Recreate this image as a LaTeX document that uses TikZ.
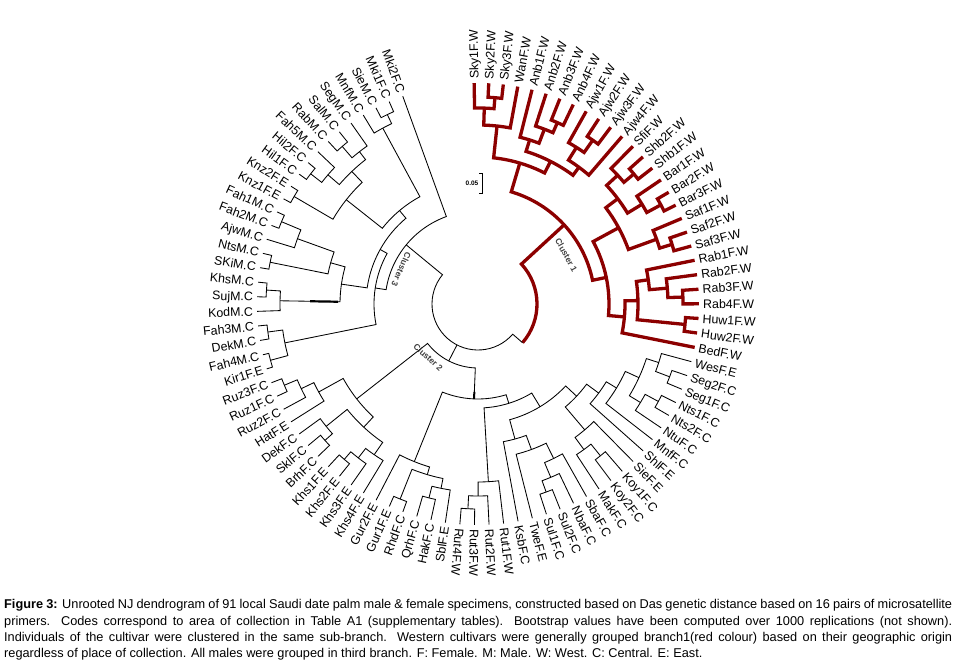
\documentclass[tikz,border=0pt]{standalone}
\usepackage{fontspec}
\setmainfont{Liberation Sans}
\definecolor{dred}{RGB}{140,0,0}
\newcommand\angof[1]{91-3.79*(#1)}
\newcommand\leafr{221}
% style, r, idx1, r1, idx2, r2
\newcommand\tbr[6]{\draw[#1] ({\angof{#3}}:#4pt) -- ({\angof{#3}}:#2pt) arc[start angle={\angof{#3}},end angle={\angof{#5}},radius=#2pt] -- ({\angof{#5}}:#6pt);}
\begin{document}
\begin{tikzpicture}[
  redbr/.style={draw=dred, line width=3.3pt},
  blkbr/.style={draw=black, line width=0.85pt},
  lab/.style={font=\fontsize{12.4}{13}\selectfont, inner sep=0pt, text height=8.9pt, text depth=0pt},
  cl/.style={font=\bfseries\fontsize{8.5}{9}\selectfont, text=black!75, inner sep=0pt}]
\useasboundingbox (-478pt,-357pt) rectangle (478pt,304pt);
% ---------------- cluster 1 (red)
\tbr{redbr}{207}{1}{\leafr}{2}{\leafr}
\tbr{redbr}{196}{0}{\leafr}{1.5}{207}
\tbr{redbr}{179}{0.75}{196}{3}{\leafr}
\tbr{redbr}{198}{6}{\leafr}{7}{\leafr}
\tbr{redbr}{187}{5}{\leafr}{6.5}{198}
\tbr{redbr}{172}{4}{\leafr}{5.75}{187}
\tbr{redbr}{200}{9}{\leafr}{10}{\leafr}
\tbr{redbr}{185}{8}{\leafr}{9.5}{200}
\tbr{redbr}{170}{8.75}{185}{11}{\leafr}
\tbr{redbr}{160}{4.875}{172}{9.875}{170}
\tbr{redbr}{147}{1.875}{179}{7.375}{160}
\tbr{redbr}{203}{13}{\leafr}{14}{\leafr}
\tbr{redbr}{190}{12}{\leafr}{13.5}{203}
\tbr{redbr}{208}{16}{\leafr}{17}{\leafr}
\tbr{redbr}{192}{15}{\leafr}{16.5}{208}
\tbr{redbr}{175}{12.75}{190}{15.75}{192}
\tbr{redbr}{203}{19}{\leafr}{20}{\leafr}
\tbr{redbr}{190}{18}{\leafr}{19.5}{203}
\tbr{redbr}{160}{14.25}{175}{18.75}{190}
\tbr{redbr}{205}{23}{\leafr}{24}{\leafr}
\tbr{redbr}{190}{22}{\leafr}{23.5}{205}
\tbr{redbr}{172}{21}{\leafr}{22.75}{190}
\tbr{redbr}{208}{25}{\leafr}{26}{\leafr}
\tbr{redbr}{160}{21.875}{172}{25.5}{208}
\tbr{redbr}{147}{23.6875}{160}{27}{\leafr}
\tbr{redbr}{131}{16.5}{160}{25.34375}{147}
\tbr{redbr}{117}{4.625}{147}{20.921875}{131}
\draw[redbr] ({\angof{12.7734}}:117pt) -- ({\angof{12.7734}}:59pt) arc[start angle={\angof{12.7734}},end angle=-41,radius=59pt];
% ---------------- cluster 2
\tbr{blkbr}{205}{29}{\leafr}{30}{\leafr}
\tbr{blkbr}{190}{28}{\leafr}{29.5}{205}
\tbr{blkbr}{205}{31}{\leafr}{32}{\leafr}
\tbr{blkbr}{190}{31.5}{205}{33}{\leafr}
\tbr{blkbr}{177}{28.75}{190}{32.25}{190}
\tbr{blkbr}{162}{30.5}{177}{34}{\leafr}
\tbr{blkbr}{150}{32.25}{162}{35}{\leafr}
\tbr{blkbr}{195}{37}{\leafr}{38}{\leafr}
\tbr{blkbr}{180}{37.5}{195}{39}{\leafr}
\tbr{blkbr}{165}{36}{\leafr}{38.25}{180}
\tbr{blkbr}{135}{33.625}{150}{37.125}{165}
\tbr{blkbr}{200}{42}{\leafr}{43}{\leafr}
\tbr{blkbr}{188}{41}{\leafr}{42.5}{200}
\tbr{blkbr}{172}{40}{\leafr}{41.75}{188}
\tbr{blkbr}{155}{40.875}{172}{44}{\leafr}
\tbr{blkbr}{140}{42.4375}{155}{45}{\leafr}
\tbr{blkbr}{120}{35.375}{135}{43.71875}{140}
\tbr{blkbr}{205}{48}{\leafr}{49}{\leafr}
\tbr{blkbr}{192}{47}{\leafr}{48.5}{205}
\tbr{blkbr}{178}{46}{\leafr}{47.75}{192}
\tbr{blkbr}{104}{39.546875}{120}{46.875}{178}
\tbr{blkbr}{200}{51}{\leafr}{52}{\leafr}
\tbr{blkbr}{188}{50}{\leafr}{51.5}{200}
\tbr{blkbr}{210}{53}{\leafr}{54}{\leafr}
\tbr{blkbr}{178}{50.75}{188}{53.5}{210}
\tbr{blkbr}{170}{52.125}{178}{55}{\leafr}
\tbr{blkbr}{95}{43.2109}{104}{53.5625}{170}
\tbr{blkbr}{205}{58}{\leafr}{59}{\leafr}
\tbr{blkbr}{195}{57}{\leafr}{58.5}{205}
\tbr{blkbr}{183}{56}{\leafr}{57.75}{195}
\tbr{blkbr}{205}{60}{\leafr}{61}{\leafr}
\tbr{blkbr}{195}{60.5}{205}{62}{\leafr}
\tbr{blkbr}{168}{56.875}{183}{61.25}{195}
\tbr{blkbr}{210}{65}{\leafr}{66}{\leafr}
\tbr{blkbr}{196}{64}{\leafr}{65.5}{210}
\tbr{blkbr}{182}{63}{\leafr}{64.75}{196}
\tbr{blkbr}{154}{59.0625}{168}{63.875}{182}
\tbr{blkbr}{64}{48.3867}{95}{61.46875}{154}
\draw[line width=2pt] ({\angof{48.3867}}:88pt) -- ({\angof{48.3867}}:95pt);
% ---------------- cluster 3
\tbr{blkbr}{212}{69}{\leafr}{70}{\leafr}
\tbr{blkbr}{215}{67}{\leafr}{68}{\leafr}
\tbr{blkbr}{197}{67.5}{215}{69.5}{212}
\tbr{blkbr}{212}{72}{\leafr}{73}{\leafr}
\tbr{blkbr}{198}{71}{\leafr}{72.5}{212}
\tbr{blkbr}{212}{74}{\leafr}{75}{\leafr}
\tbr{blkbr}{213}{77}{\leafr}{78}{\leafr}
\tbr{blkbr}{192}{76}{\leafr}{77.5}{213}
\tbr{blkbr}{153}{74.5}{212}{76.75}{192}
\tbr{blkbr}{138}{71.75}{198}{75.625}{153}
\draw[line width=2.2pt] ({\angof{71.75}}:140pt) -- ({\angof{71.75}}:168pt);
\tbr{blkbr}{213}{79}{\leafr}{80}{\leafr}
\tbr{blkbr}{212}{81}{\leafr}{82}{\leafr}
\tbr{blkbr}{198}{81.5}{212}{83}{\leafr}
\tbr{blkbr}{208}{84}{\leafr}{85}{\leafr}
\tbr{blkbr}{193}{84.5}{208}{86}{\leafr}
\tbr{blkbr}{183}{82.25}{198}{85.25}{193}
\tbr{blkbr}{168}{79.5}{213}{83.75}{183}
\tbr{blkbr}{210}{88}{\leafr}{89}{\leafr}
\tbr{blkbr}{200}{87}{\leafr}{88.5}{210}
\tbr{blkbr}{122}{81.625}{168}{87.75}{200}
\tbr{blkbr}{112}{73.6875}{138}{84.6875}{122}
\tbr{blkbr}{104}{68.5}{197}{79.1875}{112}
\tbr{blkbr}{93}{73.84375}{104}{90}{\leafr}
% ---------------- root
\draw[blkbr] (-41:59pt) -- (-41:46pt) arc[start angle=-41,end angle={\angof{81.921875}},radius=46pt] -- ({\angof{81.921875}}:93pt);
\draw[blkbr] ({\angof{54.93}}:46pt) -- ({\angof{54.93}}:64pt);
% ---------------- cluster labels
\node[cl, rotate=-61] (c1) at (29:101pt) {Cluster 1};
\node[cl, rotate=-43] (c2) at (-133:73pt) {Cluster 2};
\node[cl, rotate=-114] (c3) at (156:84pt) {Cluster 3};
% ---------------- scale bar
\node[font=\bfseries\fontsize{6.5}{7}\selectfont, inner sep=0pt] (sc) at (-6pt,121pt) {0.05};
\draw[line width=0.6pt] (1.5pt,131pt) -- (4pt,131pt) -- (4pt,111pt) -- (1.5pt,111pt);
% ---------------- leaf labels
\foreach \n [count=\k from 0] in {Sky1F.W,Sky2F.W,Sky3F.W,WanF.W,Anb1F.W,Anb2F.W,Anb3F.W,Anb4F.W,Ajw1F.W,Ajw2F.W,Ajw3F.W,Ajw4F.W,SfiF.W,Shb2F.W,Shb1F.W,Bar1F.W,Bar2F.W,Bar3F.W,Saf1F.W,Saf2F.W,Saf3F.W,Rab1F.W,Rab2F.W,Rab3F.W,Rab4F.W,Huw1F.W,Huw2F.W,BedF.W,WesF.E,Seg2F.C,Seg1F.C,Nts1F.C,Nts2F.C,NtuF.C,MnfF.C,ShlF.E,SieF.E,Koy1F.C,Koy2F.C,MakF.C,SbaF.C,NbaF.C,Sul2F.C,Sul1F.C,TweF.E,KsbF.C,Rut1F.W,Rut2F.W,Rut3F.W,Rut4F.W,SblF.E,HakF.C,QrhF.C,RhdF.C,Gur1F.E,Gur2F.E,Khs4F.E,Khs3F.E,Khs2F.E,Khs1F.E,BrhF.C,SklF.C,DekF.C,HatF.E,Ruz2F.C,Ruz1F.C,Ruz3F.C,Kir1F.E,Fah4M.C,DekM.C,Fah3M.C,KodM.C,SujM.C,KhsM.C,SKiM.C,NtsM.C,AjwM.C,Fah2M.C,Fah1M.C,Knz1F.E,Knz2F.E,Hil1F.C,Hil2F.C,Fah5M.C,RabM.C,SalM.C,SegM.C,MnfM.C,SieM.C,Mki1F.C,Mki2F.C}{
  \pgfmathsetmacro\lang{91-3.79*\k}
  \ifnum\k<50
    \node[lab, rotate=\lang, anchor=west] (l\k) at (\lang:225pt) {\n};
  \else
    \pgfmathsetmacro\lrot{\lang+180}
    \node[lab, rotate=\lrot, anchor=east] (l\k) at (\lang:225pt) {\n};
  \fi
}
% ---------------- caption
\node[anchor=north west, inner sep=0pt, text width=948pt, align=justify,
      font=\fontsize{12.75}{16.3}\selectfont] (cap) at (-474pt,-295.3pt)
{\hyphenpenalty=10000\textbf{Figure 3:} Unrooted NJ dendrogram of 91 local Saudi date palm male \& female specimens, constructed based on Das genetic distance based on 16 pairs of microsatellite\linebreak
primers. Codes correspond to area of collection in Table A1 (supplementary tables). Bootstrap values have been computed over 1000 replications (not shown).\linebreak
Individuals of the cultivar were clustered in the same sub-branch. Western cultivars were generally grouped branch1(red colour) based on their geographic origin\linebreak
regardless of place of collection. All males were grouped in third branch. F: Female. M: Male. W: West. C: Central. E: East.};
\end{tikzpicture}
\end{document}
